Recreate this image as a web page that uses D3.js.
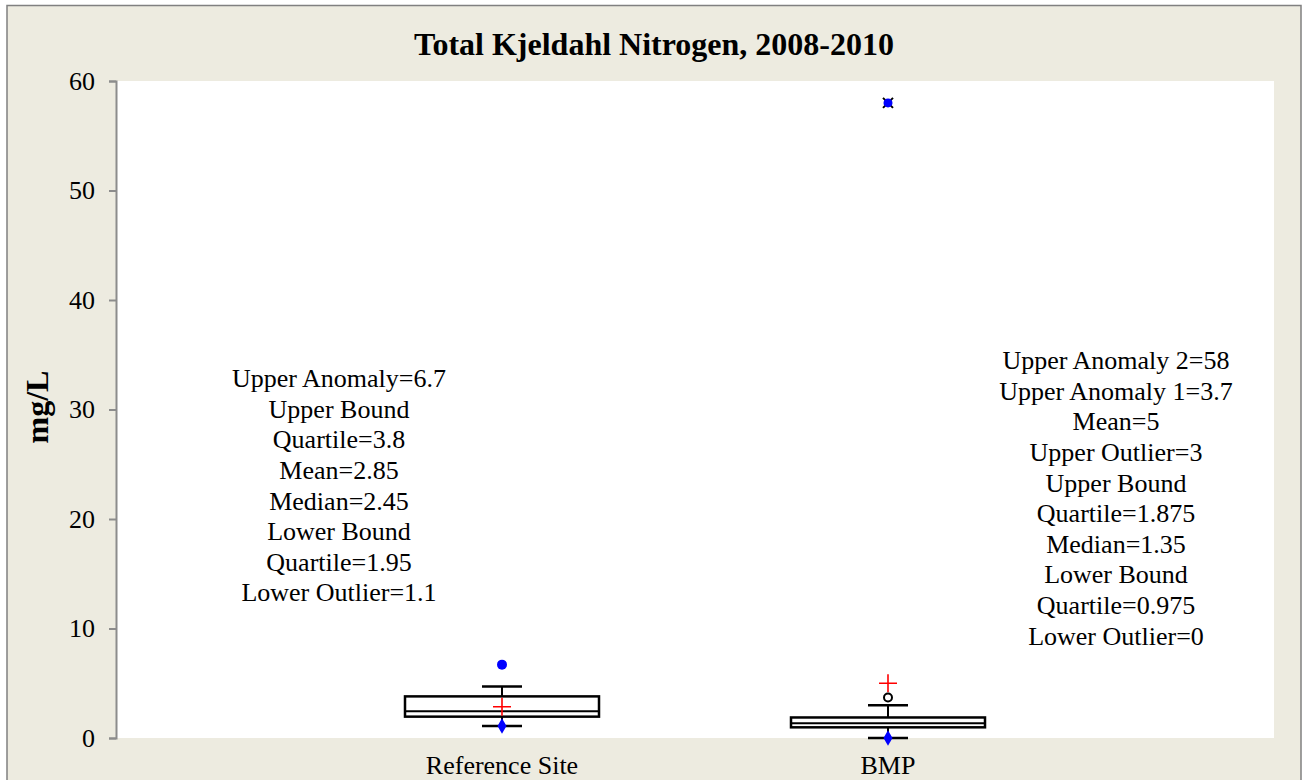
<!DOCTYPE html>
<html>
<head>
<meta charset="utf-8">
<script src="https://cdn.jsdelivr.net/npm/d3@7"></script>
<style>
  html, body { margin: 0; padding: 0; background: #ffffff; }
  svg { display: block; }
  text { font-family: "Liberation Serif", "Times New Roman", serif; fill: #000; }
</style>
</head>
<body>
<svg id="chart" width="1302" height="780"></svg>
<script>
// Box-plot summary per site (mg/L)
const categories = ["Reference Site", "BMP"];
const q1 = [1.95, 0.975];
const median = [2.45, 1.35];
const q3 = [3.8, 1.875];
const whiskerLow = [1.1, 0];
const whiskerHigh = [4.7, 3];
const means = [2.85, 5];
// Outlier / anomaly markers: [category index, value]
const lowerOutliers = [[0, 1.1], [1, 0]];
const anomalyFilled = [[0, 6.7]];
const anomalyOpen = [[1, 3.7]];
const anomalyExtreme = [[1, 58]];
const yTicks = [0, 10, 20, 30, 40, 50, 60];
const title = "Total Kjeldahl Nitrogen, 2008-2010";
const yLabel = "mg/L";
const notesLeft = ["Upper Anomaly=6.7", "Upper Bound", "Quartile=3.8", "Mean=2.85",
  "Median=2.45", "Lower Bound", "Quartile=1.95", "Lower Outlier=1.1"];
const notesRight = ["Upper Anomaly 2=58", "Upper Anomaly 1=3.7", "Mean=5", "Upper Outlier=3",
  "Upper Bound", "Quartile=1.875", "Median=1.35", "Lower Bound", "Quartile=0.975", "Lower Outlier=0"];

const svg = d3.select("#chart");
const plot = { left: 116, top: 81, right: 1274, bottom: 738 };
const font = "'Liberation Serif', 'Times New Roman', serif";

// Outer frame
svg.append("rect")
  .attr("x", 7).attr("y", 5.5).attr("width", 1294).attr("height", 800)
  .attr("fill", "#EDEBE0").attr("stroke", "#808080").attr("stroke-width", 1.5);

// Plot area
svg.append("rect")
  .attr("x", plot.left).attr("y", plot.top)
  .attr("width", plot.right - plot.left).attr("height", plot.bottom - plot.top)
  .attr("fill", "#ffffff");

const x = d3.scalePoint().domain(categories).range([plot.left, plot.right]).padding(1);
const y = d3.scaleLinear().domain([0, 60]).range([plot.bottom, plot.top]);
const boxW = 194, capW = 40;

// Y axis
const yAxis = svg.append("g")
  .attr("transform", `translate(${plot.left},0)`)
  .call(d3.axisLeft(y).tickValues(yTicks).tickSize(7).tickPadding(14).tickFormat(d3.format("d")));
yAxis.select(".domain").attr("stroke", "#8c8c8c").attr("stroke-width", 2);
yAxis.selectAll(".tick line").attr("stroke", "#8c8c8c").attr("stroke-width", 2);
yAxis.selectAll(".tick text")
  .style("font-family", font).style("font-size", "26px").attr("fill", "#000");

// Category labels
svg.append("g").selectAll("text").data(categories).join("text")
  .attr("x", d => x(d)).attr("y", 774)
  .attr("text-anchor", "middle").style("font-size", "26px")
  .text(d => d);

// Title
svg.append("text")
  .attr("x", 654).attr("y", 55).attr("text-anchor", "middle")
  .style("font-size", "32px").style("font-weight", "bold")
  .text(title);

// Y label
svg.append("text")
  .attr("transform", `translate(48,407) rotate(-90)`)
  .attr("text-anchor", "middle")
  .style("font-size", "32px").style("font-weight", "bold")
  .text(yLabel);

// Boxes
const g = svg.append("g");
categories.forEach((c, i) => {
  const cx = x(c);
  // whisker stems
  g.append("line").attr("x1", cx).attr("x2", cx).attr("y1", y(q3[i])).attr("y2", y(whiskerHigh[i]))
    .attr("stroke", "#000").attr("stroke-width", 2);
  g.append("line").attr("x1", cx).attr("x2", cx).attr("y1", y(q1[i])).attr("y2", y(whiskerLow[i]))
    .attr("stroke", "#000").attr("stroke-width", 2);
  // caps
  [whiskerHigh[i], whiskerLow[i]].forEach(v => {
    g.append("line").attr("x1", cx - capW / 2).attr("x2", cx + capW / 2).attr("y1", y(v)).attr("y2", y(v))
      .attr("stroke", "#000").attr("stroke-width", 2.5);
  });
  // box
  g.append("rect").attr("x", cx - boxW / 2).attr("y", y(q3[i]))
    .attr("width", boxW).attr("height", y(q1[i]) - y(q3[i]))
    .attr("fill", "#fff").attr("stroke", "#000").attr("stroke-width", 2.5);
  g.append("line").attr("x1", cx - boxW / 2).attr("x2", cx + boxW / 2)
    .attr("y1", y(median[i])).attr("y2", y(median[i]))
    .attr("stroke", "#000").attr("stroke-width", 2);
  // mean
  const my = y(means[i]);
  g.append("path").attr("d", `M${cx - 9},${my}H${cx + 9}M${cx},${my - 9}V${my + 9}`)
    .attr("stroke", "#ff0000").attr("stroke-width", 1.6).attr("fill", "none");
});

// Lower outliers: blue diamonds
g.selectAll(".lo").data(lowerOutliers).join("path")
  .attr("d", d3.symbol(d3.symbolDiamond, 70))
  .attr("transform", d => `translate(${x(categories[d[0]])},${y(d[1])})`)
  .attr("fill", "#0000ff");

// Anomalies
g.selectAll(".af").data(anomalyFilled).join("circle")
  .attr("cx", d => x(categories[d[0]])).attr("cy", d => y(d[1])).attr("r", 5)
  .attr("fill", "#0000ff");
g.selectAll(".ao").data(anomalyOpen).join("circle")
  .attr("cx", d => x(categories[d[0]])).attr("cy", d => y(d[1])).attr("r", 4)
  .attr("fill", "#fff").attr("stroke", "#000").attr("stroke-width", 2);
anomalyExtreme.forEach(d => {
  const cx = x(categories[d[0]]), cy = y(d[1]);
  g.append("path").attr("d", `M${cx - 5},${cy - 5}L${cx + 5},${cy + 5}M${cx - 5},${cy + 5}L${cx + 5},${cy - 5}`)
    .attr("stroke", "#000").attr("stroke-width", 2);
  g.append("circle").attr("cx", cx).attr("cy", cy).attr("r", 4.5).attr("fill", "#0000ff");
});

// Annotation blocks
function notes(lines, cx, firstY) {
  svg.append("g").selectAll("text").data(lines).join("text")
    .attr("x", cx).attr("y", (d, i) => firstY + i * 30.6)
    .attr("dy", "0.35em").attr("text-anchor", "middle")
    .style("font-size", "26px").text(d => d);
}
notes(notesLeft, 339, 378);
notes(notesRight, 1116, 360);
</script>
</body>
</html>
